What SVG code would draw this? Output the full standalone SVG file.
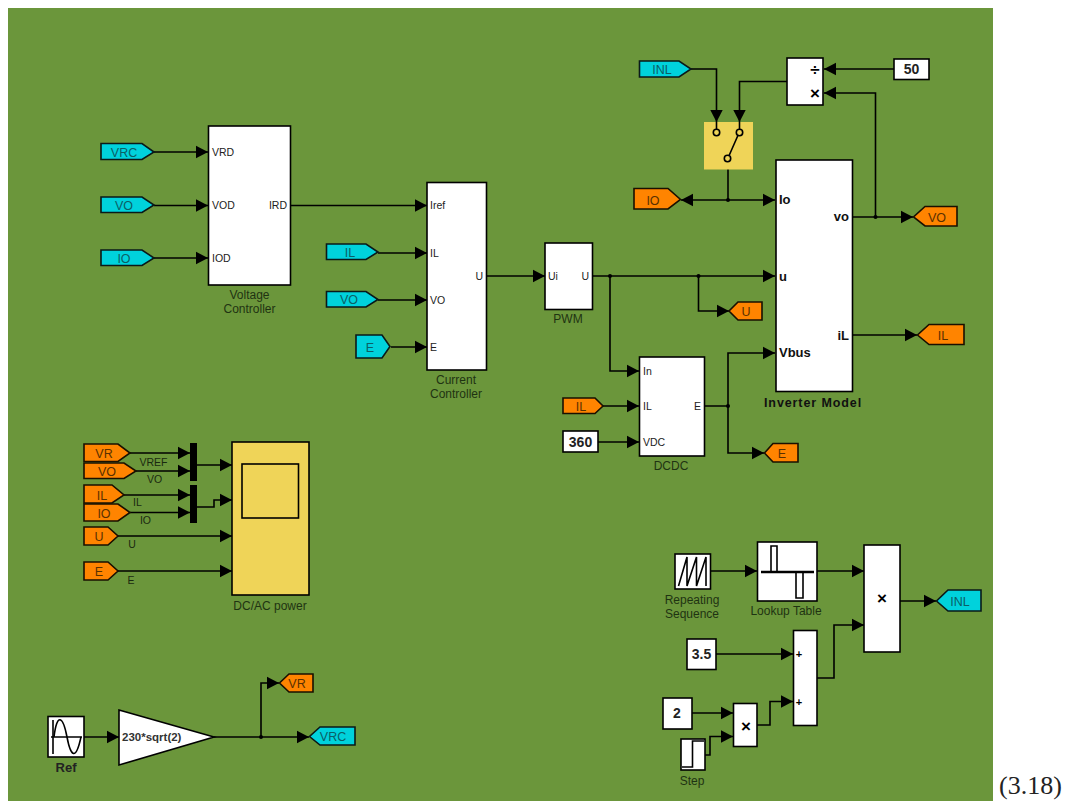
<svg xmlns="http://www.w3.org/2000/svg" width="1083" height="808" viewBox="0 0 1083 808">
<style>
text{font-family:"Liberation Sans",Arial,sans-serif;font-size:10.5px;fill:#2a2a2a}
.bg{fill:#6b963b}
.b{fill:#fff;stroke:#000;stroke-width:1.6}
.y{fill:#efd458;stroke:#000;stroke-width:1.6}
.c{fill:#00d2dc;stroke:#0a1a1a;stroke-width:1.6}
.o{fill:#ff8400;stroke:#1a1000;stroke-width:1.6}
.tag{font-size:12.5px;text-anchor:middle}
.tc{fill:#0b5f66}
.to{fill:#5a3000}
.lab{font-size:12px;text-anchor:middle;fill:#1f3312}
.pl{font-size:10.5px;fill:#222}
.pr{font-size:10.5px;fill:#222;text-anchor:end}
.bd{font-weight:bold;font-size:13px;fill:#111}
.num{font-weight:bold;font-size:14px;text-anchor:middle;fill:#222}
.sig{font-size:10.5px;text-anchor:middle;fill:#1a2a10}
.op{font-size:17px;font-weight:bold;text-anchor:middle;fill:#000}
.pls{font-size:11px;font-weight:bold;text-anchor:middle;fill:#000}
.w{fill:none;stroke:#000;stroke-width:1.6;marker-end:url(#a)}
.n{fill:none;stroke:#000;stroke-width:1.6}
.j{fill:#000}
.ic{fill:none;stroke:#000;stroke-width:1.6}
.cir{fill:#efd458;stroke:#000;stroke-width:1.6}
</style>
<defs>
<marker id="a" markerUnits="userSpaceOnUse" markerWidth="13" markerHeight="14" refX="12" refY="7" orient="auto"><path d="M0 .8L12 7L0 13.200z" fill="#000"/></marker>
</defs>
<rect class="bg" x="8" y="8" width="985" height="793"/>
<text x="999" y="794" style="font-family:'Liberation Serif',serif;font-size:26px;fill:#222">(3.18)</text>

<g id="connectors">
<path class="w" d="M154 152H208"/>
<path class="w" d="M154 205.500H208"/>
<path class="w" d="M154 258H208"/>
<path class="w" d="M291 205.500H427"/>
<path class="w" d="M378 253H427"/>
<path class="w" d="M378 300H427"/>
<path class="w" d="M391 347H427"/>
<path class="w" d="M486.500 276H545"/>
<path class="w" d="M592.500 276H775"/>
<path class="w" d="M610 276V371H639"/>
<path class="w" d="M698.500 276V311H729"/>
<path class="w" d="M603 406H639"/>
<path class="w" d="M598 442H639"/>
<path class="w" d="M705 406H728V353H775"/>
<path class="w" d="M728 406V453H764"/>
<path class="w" d="M852.500 335H917"/>
<path class="w" d="M852.500 217H913"/>
<path class="w" d="M875.500 217V93H824"/>
<path class="w" d="M894 69H824"/>
<path class="w" d="M691 69H716.500V122"/>
<path class="w" d="M787 81.500H739.500V122"/>
<path class="n" d="M728 163V200"/>
<path class="w" d="M728 200H775"/>
<path class="w" d="M728 200H681"/>
<path class="w" d="M130 453H190"/>
<path class="w" d="M136 471H190"/>
<path class="w" d="M124 495H190"/>
<path class="w" d="M130 512.500H190"/>
<path class="w" d="M118 536H232"/>
<path class="w" d="M118 571H232"/>
<path class="w" d="M196.500 465H232"/>
<path class="w" d="M196.500 507H214V500H232"/>
<path class="w" d="M710.500 571H757"/>
<path class="w" d="M817 571H864"/>
<path class="w" d="M900 601H936"/>
<path class="w" d="M716 654H793"/>
<path class="w" d="M692 713H733"/>
<path class="w" d="M705 755H710V736.500H733"/>
<path class="w" d="M757 725H770V701.500H793"/>
<path class="w" d="M817 678H834V625H864"/>
<path class="w" d="M84 737H119"/>
<path class="w" d="M214 737H309"/>
<path class="w" d="M261 737V683H279"/>
<circle class="j" cx="610" cy="276" r="2"/>
<circle class="j" cx="698.500" cy="276" r="2"/>
<circle class="j" cx="728" cy="200" r="2"/>
<circle class="j" cx="875.500" cy="217" r="2"/>
<circle class="j" cx="728" cy="406" r="2"/>
<circle class="j" cx="261" cy="737" r="2"/>
</g>

<g id="tag-vrc-in"><polygon class="c" points="101,143.500 142,143.500 154,152 142,159.500 101,159.500"/><text class="tag tc" x="124" y="156.500">VRC</text></g>
<g id="tag-vo-in"><polygon class="c" points="101,197 142,197 154,205 142,212.500 101,212.500"/><text class="tag tc" x="124" y="210">VO</text></g>
<g id="tag-io-in"><polygon class="c" points="101,250 142,250 154,258 142,265.500 101,265.500"/><text class="tag tc" x="124" y="263">IO</text></g>
<g id="tag-il-in"><polygon class="c" points="326.500,244 366,244 378,252 366,259.500 326.500,259.500"/><text class="tag tc" x="350" y="257">IL</text></g>
<g id="tag-vo-in2"><polygon class="c" points="326.500,291.500 366,291.500 378,299.500 366,307 326.500,307"/><text class="tag tc" x="349" y="304">VO</text></g>
<g id="tag-e-in"><polygon class="c" points="356,335 382,335 390,346.500 382,358 356,358"/><text class="tag tc" x="370" y="351.500">E</text></g>

<g id="voltage-controller"><rect class="b" x="208.500" y="126" width="82" height="159"/>
<text class="pl" x="212" y="156">VRD</text><text class="pl" x="212" y="209">VOD</text><text class="pl" x="212" y="262">IOD</text><text class="pr" x="287" y="209">IRD</text>
<text class="lab" x="249.500" y="299">Voltage</text><text class="lab" x="249.500" y="313">Controller</text></g>

<g id="current-controller"><rect class="b" x="427" y="182.500" width="59.500" height="187.500"/>
<text class="pl" x="430" y="209">Iref</text><text class="pl" x="430" y="257">IL</text><text class="pl" x="430" y="304">VO</text><text class="pl" x="430" y="351">E</text><text class="pr" x="483" y="280">U</text>
<text class="lab" x="456" y="384">Current</text><text class="lab" x="456" y="398">Controller</text></g>

<g id="pwm"><rect class="b" x="545" y="243" width="47.500" height="66.500"/>
<text class="pl" x="548" y="280">Ui</text><text class="pr" x="589" y="280">U</text>
<text class="lab" x="568" y="323">PWM</text></g>

<g id="dcdc"><rect class="b" x="639.500" y="357" width="65" height="99"/>
<text class="pl" x="643" y="375">In</text><text class="pl" x="643" y="410">IL</text><text class="pl" x="643" y="446">VDC</text><text class="pr" x="701" y="410">E</text>
<text class="lab" x="671" y="470">DCDC</text></g>

<g id="inverter-model"><rect class="b" x="776" y="160" width="76.500" height="231.500"/>
<text class="bd" x="779" y="204">Io</text><text class="bd" x="779" y="281">u</text><text class="bd" x="779" y="357">Vbus</text>
<text class="bd" x="849" y="221" text-anchor="end">vo</text><text class="bd" x="849" y="340" text-anchor="end">iL</text>
<text class="bd" x="813" y="407" text-anchor="middle" style="font-size:12.500px;letter-spacing:.9px">Inverter Model</text></g>

<g id="switch"><rect x="704" y="122" width="49" height="47.500" fill="#efd458"/>
<path class="n" d="M716.500 122V129M739.500 122V129M739 133L728 158"/>
<circle class="cir" cx="716.500" cy="132.500" r="3.200"/><circle class="cir" cx="739.500" cy="132.500" r="3.200"/><circle class="cir" cx="727.500" cy="158.500" r="3.200"/></g>

<g id="tag-inl-top"><polygon class="c" points="639.500,61 679,61 691,69 679,77 639.500,77"/><text class="tag tc" x="662" y="74">INL</text></g>
<g id="product-div"><rect class="b" x="787" y="58" width="36" height="47"/>
<text class="op" x="815" y="75">÷</text><text class="op" x="815" y="99">×</text></g>
<g id="const-50"><rect class="b" x="894" y="59" width="35" height="20.500"/><text class="num" x="911.500" y="74">50</text></g>
<g id="tag-io-top"><polygon class="o" points="634,188.500 668,188.500 680.500,199.500 668,209 634,209"/><text class="tag to" x="653" y="204.500">IO</text></g>
<g id="tag-vo-out"><polygon class="o" points="957,206.500 925,206.500 913.500,217 925,226 957,226"/><text class="tag to" x="937" y="221.500">VO</text></g>
<g id="tag-u-out"><polygon class="o" points="762,302 738,302 729,311 738,320 762,320"/><text class="tag to" x="746" y="316">U</text></g>
<g id="tag-il-out"><polygon class="o" points="964,324.500 929,324.500 917.500,335 929,344.500 964,344.500"/><text class="tag to" x="943" y="340">IL</text></g>
<g id="tag-il-dc"><polygon class="o" points="563,398 595,398 603,406 595,413.500 563,413.500"/><text class="tag to" x="581" y="410.500">IL</text></g>
<g id="const-360"><rect class="b" x="563" y="431" width="35" height="21"/><text class="num" x="580.500" y="447">360</text></g>
<g id="tag-e-out"><polygon class="o" points="798,443.500 773,443.500 764.500,453 773,462 798,462"/><text class="tag to" x="782" y="458">E</text></g>

<g id="tag-vr-s"><polygon class="o" points="84,444 118,444 130,453 118,461.500 84,461.500"/><text class="tag to" x="104" y="458">VR</text></g>
<g id="tag-vo-s"><polygon class="o" points="84,463 124,463 136,471 124,478.500 84,478.500"/><text class="tag to" x="107" y="476">VO</text></g>
<g id="tag-il-s"><polygon class="o" points="84,485 112,485 124,495 112,503 84,503"/><text class="tag to" x="102" y="500">IL</text></g>
<g id="tag-io-s"><polygon class="o" points="84,504 118,504 130,512.500 118,521 84,521"/><text class="tag to" x="104" y="517.500">IO</text></g>
<g id="tag-u-s"><polygon class="o" points="84,527 108,527 118,536 108,545 84,545"/><text class="tag to" x="99" y="541">U</text></g>
<g id="tag-e-s"><polygon class="o" points="84,562 108,562 118,571 108,580 84,580"/><text class="tag to" x="99" y="576">E</text></g>
<g id="mux-1"><rect x="190" y="443" width="7" height="38" fill="#000"/></g>
<g id="mux-2"><rect x="190" y="485" width="7" height="38" fill="#000"/></g>
<g id="signal-labels"><text class="sig" x="153.500" y="466">VREF</text><text class="sig" x="154.500" y="483">VO</text><text class="sig" x="137.500" y="506">IL</text><text class="sig" x="145.500" y="524">IO</text><text class="sig" x="132" y="548">U</text><text class="sig" x="131" y="584">E</text></g>
<g id="scope"><rect class="y" x="232" y="442" width="77" height="153"/><rect class="y" x="242" y="464" width="56.500" height="54"/>
<text class="lab" x="270" y="610">DC/AC power</text></g>

<g id="repeating-sequence"><rect class="b" x="675" y="554" width="35.500" height="35"/>
<path class="ic" d="M678.500 586L687 557V586L696.500 557V586L706 557V586"/>
<text class="lab" x="692" y="604">Repeating</text><text class="lab" x="692" y="618">Sequence</text></g>
<g id="lookup-table"><rect class="b" x="757.500" y="542" width="59.500" height="59"/>
<path class="ic" style="stroke-width:2.600" d="M761 572H814"/><path class="ic" d="M771 572V546H777V572M796 572V598H803V572"/>
<text class="lab" x="786" y="615">Lookup Table</text></g>
<g id="product-main"><rect class="b" x="864" y="545" width="36" height="107"/><text class="op" x="882" y="604">×</text></g>
<g id="tag-inl-out"><polygon class="c" points="981,590 948,590 936.500,601 948,611 981,611"/><text class="tag tc" x="960" y="605.500">INL</text></g>
<g id="sum"><rect class="b" x="793.500" y="630.500" width="23.500" height="95"/><text class="pls" x="799" y="658">+</text><text class="pls" x="799" y="705.500">+</text></g>
<g id="const-3-5"><rect class="b" x="687" y="639" width="29" height="30.500"/><text class="num" x="701.500" y="659">3.5</text></g>
<g id="const-2"><rect class="b" x="663" y="698" width="29" height="31"/><text class="num" x="677" y="718">2</text></g>
<g id="product-small"><rect class="b" x="733.500" y="703.500" width="23.500" height="43"/><text class="op" x="746" y="732">×</text></g>
<g id="step"><rect class="b" x="681" y="739" width="24" height="31"/><path class="ic" d="M682 767H692.500V741H704"/><text class="lab" x="692" y="785">Step</text></g>

<g id="ref"><rect class="b" x="48" y="716.500" width="36" height="40.500"/>
<path class="ic" d="M53 720V754M51 737H82"/><path class="ic" d="M54 737C57 712 63 716 67 737C71 758 76 760 81 737"/>
<text x="66" y="772" style="font-size:13px;font-weight:bold;text-anchor:middle;fill:#222">Ref</text></g>
<g id="gain"><polygon class="b" points="119,710 214,737 119,765"/><text x="122" y="741" style="font-size:11.500px;font-weight:bold;fill:#333">230*sqrt(2)</text></g>
<g id="tag-vr-out"><polygon class="o" points="313,674 289,674 279.500,683 289,692 313,692"/><text class="tag to" x="297" y="688">VR</text></g>
<g id="tag-vrc-out"><polygon class="c" points="355,727 320,727 309.500,736.500 320,745 355,745"/><text class="tag tc" x="333" y="741">VRC</text></g>
</svg>
